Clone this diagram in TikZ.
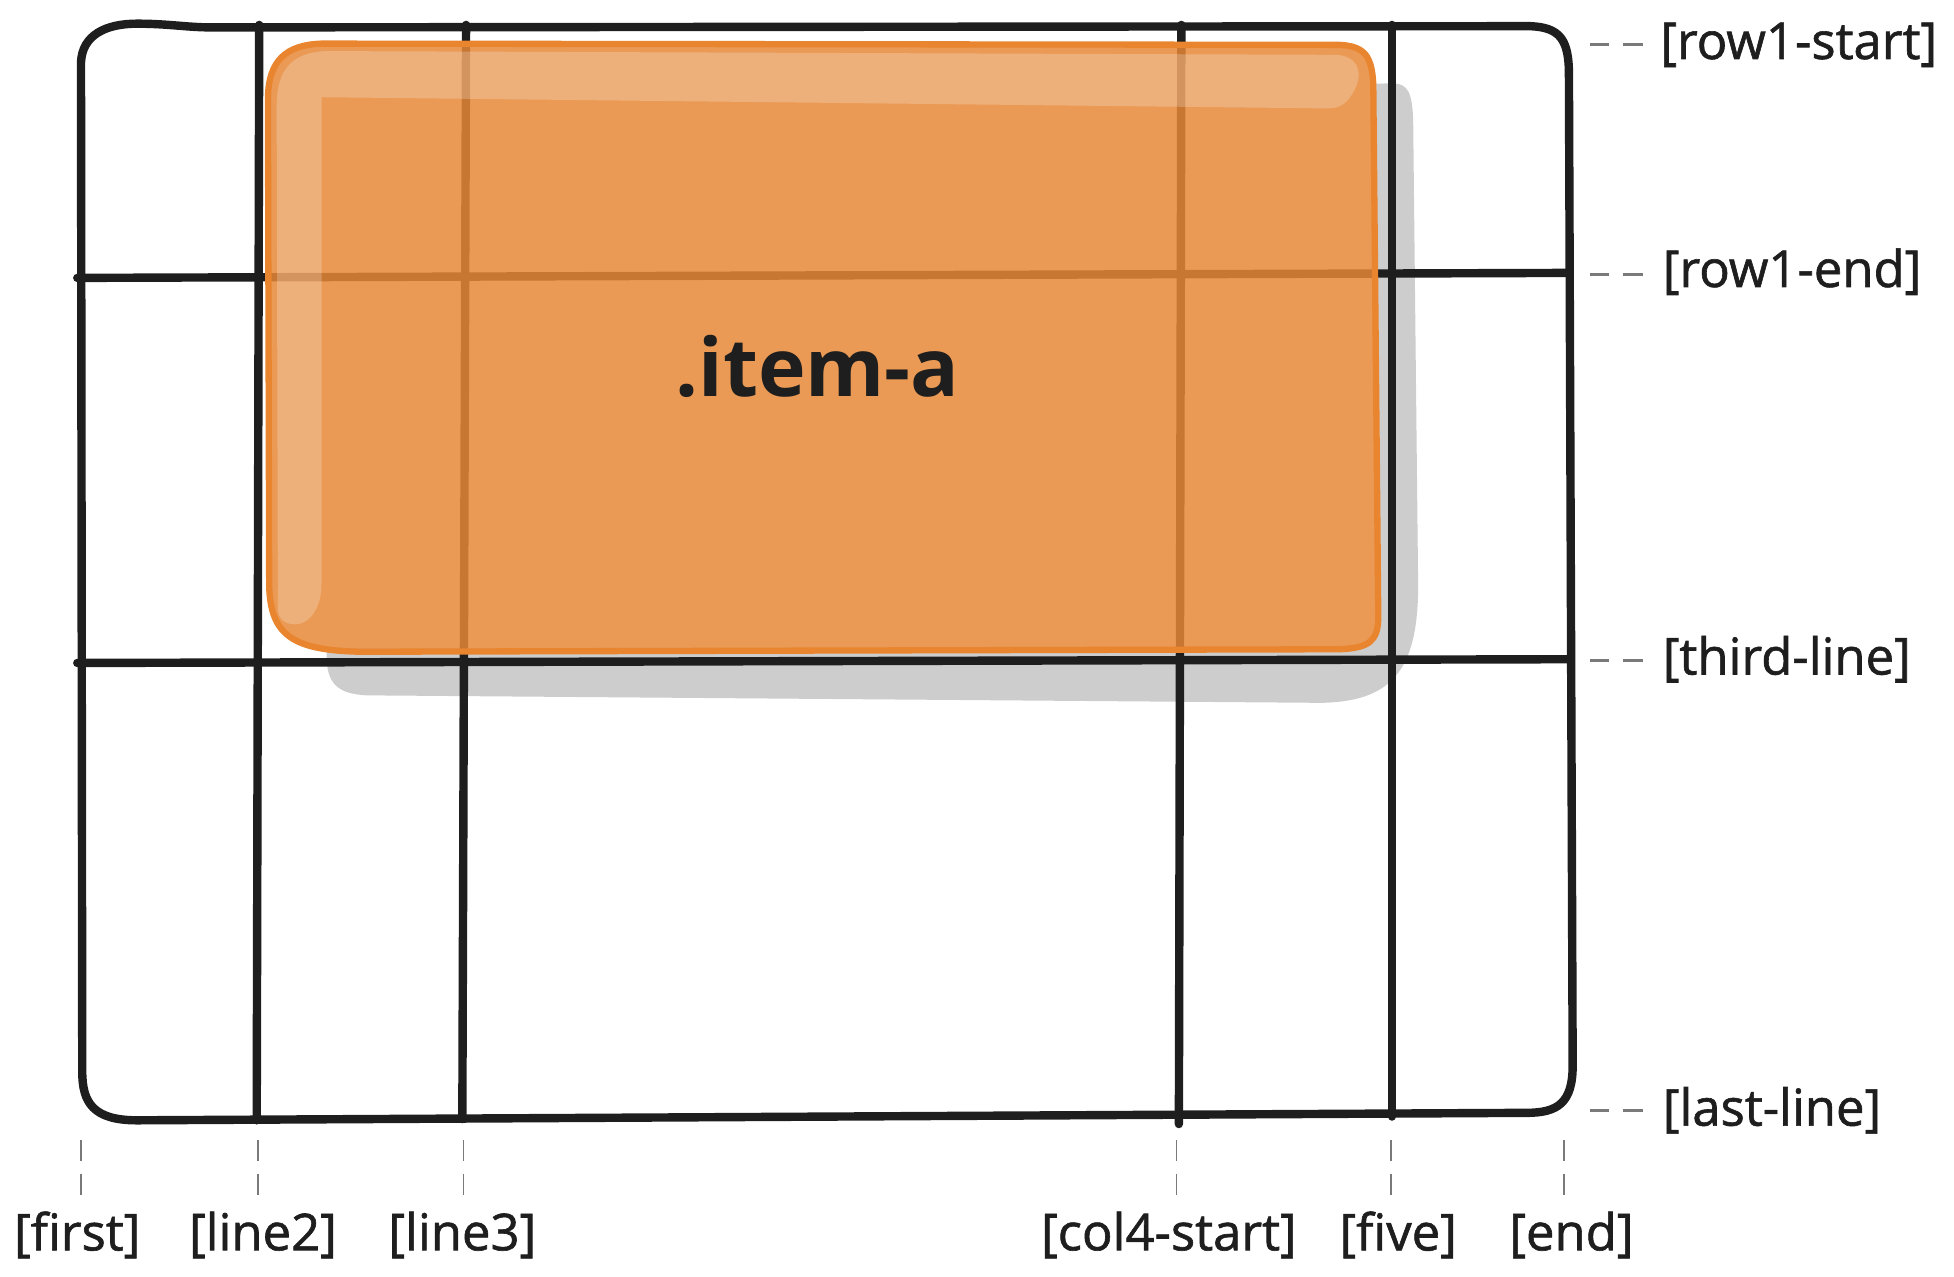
\documentclass[tikz,border=0pt]{standalone}
\usepackage{fontspec}
\setmainfont{Open Sans}
\newfontfamily\labfont{Open Sans}[FakeBold=1.2]
\newfontfamily\itemfont{Open Sans}
\definecolor{ink}{HTML}{1E1E1E}
\definecolor{orfill}{RGB}{231,136,54}
\definecolor{orline}{HTML}{E8852E}
\definecolor{shadowc}{HTML}{CDCDCD}
\definecolor{tickc}{HTML}{7A7A7A}
\begin{document}
\begin{tikzpicture}[x=0.025cm,y=-0.025cm,
  gridline/.style={draw=ink, line width=4.8pt, line cap=round, line join=round},
  tickline/.style={draw=tickc, line width=1pt, dash pattern=on 12pt off 7pt},
  hdash/.style={draw=tickc, line width=1.8pt, dash pattern=on 11pt off 8pt},
  lab/.style={text=ink, font=\labfont\fontsize{29}{33}\selectfont, inner sep=0pt},
  itembox/.style={fill=orfill, fill opacity=0.845, draw=orline, line width=3.6pt, line join=round},
  shine/.style={fill=white, fill opacity=0.22},
  shadowbox/.style={fill=shadowc}
]
\useasboundingbox (0,0) rectangle (1568,1024);
\def\boxpath{(258,35) -- (1075,36) .. controls (1095,37) and (1101,45) .. (1102,68)
  -- (1106,495) .. controls (1106,515) and (1098,520) .. (1075,521)
  -- (290,523) .. controls (235,522) and (217,510) .. (216,470)
  -- (215,80) .. controls (215,48) and (230,36) .. (258,35) -- cycle}
% shadow
\path[shadowbox] (300,68) -- (1118,67) .. controls (1130,67) and (1133,75) .. (1134,95)
  -- (1138,470) .. controls (1138,540) and (1115,563) .. (1060,564)
  -- (295,558) .. controls (270,557) and (262,548) .. (262,525) -- (262,100) -- cycle;
% white under the item box, so the shadow does not show through it
\fill[white] \boxpath;
% grid coordinates
\coordinate (c2t) at (208,20);  \coordinate (c2b) at (206,899);
\coordinate (c3t) at (374,20);  \coordinate (c3b) at (371,898);
\coordinate (c4t) at (948,20);  \coordinate (c4b) at (946,902);
\coordinate (c5t) at (1117,20); \coordinate (c5b) at (1117,896);
\coordinate (r2l) at (62,223);  \coordinate (r2r) at (1257,219);
\coordinate (r3l) at (62,532);  \coordinate (r3r) at (1258,529);
% frame
\draw[gridline] (170,22) -- (1228,21) .. controls (1252,22) and (1259,32) .. (1259,60)
  -- (1262,855) .. controls (1262,885) and (1250,893) .. (1225,893)
  -- (110,899) .. controls (75,899) and (66,885) .. (66,860)
  -- (65,50) .. controls (66,28) and (85,19) .. (110,19) .. controls (135,19) and (150,22) .. (170,22) -- cycle;
\draw[gridline] (c2t) -- (c2b);
\draw[gridline] (c3t) -- (c3b);
\draw[gridline] (c4t) -- (c4b);
\draw[gridline] (c5t) -- (c5b);
\draw[gridline] (r2l) -- (r2r);
\draw[gridline] (r3l) -- (r3r);
% item box
\path[itembox] \boxpath;
\path[shine] (223,488) -- (222,85) .. controls (222,55) and (235,42) .. (262,41)
  -- (1072,44) .. controls (1090,45) and (1094,58) .. (1087,72)
  .. controls (1082,82) and (1076,87) .. (1066,87)
  -- (258,78) -- (258,468) .. controls (258,490) and (247,501) .. (237,501)
  .. controls (228,501) and (223,496) .. (223,488) -- cycle;
\node[text=ink, font=\itemfont\bfseries\fontsize{46}{54}\selectfont, anchor=base, inner sep=0pt] (item) at (656,318) {.item-a};
% right labels
\node[lab, anchor=west] (lr1s) at (1332,36) {[row1-start]};
\node[lab, anchor=west] (lr1e) at (1334,218) {[row1-end]};
\node[lab, anchor=west] (lr3) at (1334,529) {[third-line]};
\node[lab, anchor=west] (lrl) at (1334,891) {[last-line]};
\coordinate (h1a) at (1276,36);  \coordinate (h1b) at (1322,36);
\coordinate (h2a) at (1276,220); \coordinate (h2b) at (1322,220);
\coordinate (h3a) at (1276,530); \coordinate (h3b) at (1322,530);
\coordinate (h4a) at (1276,891); \coordinate (h4b) at (1322,891);
\draw[hdash] (h1a) -- (h1b);
\draw[hdash] (h2a) -- (h2b);
\draw[hdash] (h3a) -- (h3b);
\draw[hdash] (h4a) -- (h4b);
% bottom labels
\node[lab] (lb1) at (62,991) {[first]};
\node[lab] (lb2) at (211,991) {[line2]};
\node[lab] (lb3) at (371,991) {[line3]};
\node[lab] (lb4) at (938,991) {[col4-start]};
\node[lab] (lb5) at (1122,991) {[five]};
\node[lab] (lb6) at (1261,991) {[end]};
\foreach \n/\x in {1/65,2/207,3/372,4/944,5/1116,6/1255}{
  \coordinate (t\n a) at (\x,915);
  \coordinate (t\n b) at (\x,962);
  \draw[tickline] (t\n a) -- (t\n b);
}
\end{tikzpicture}
\end{document}
